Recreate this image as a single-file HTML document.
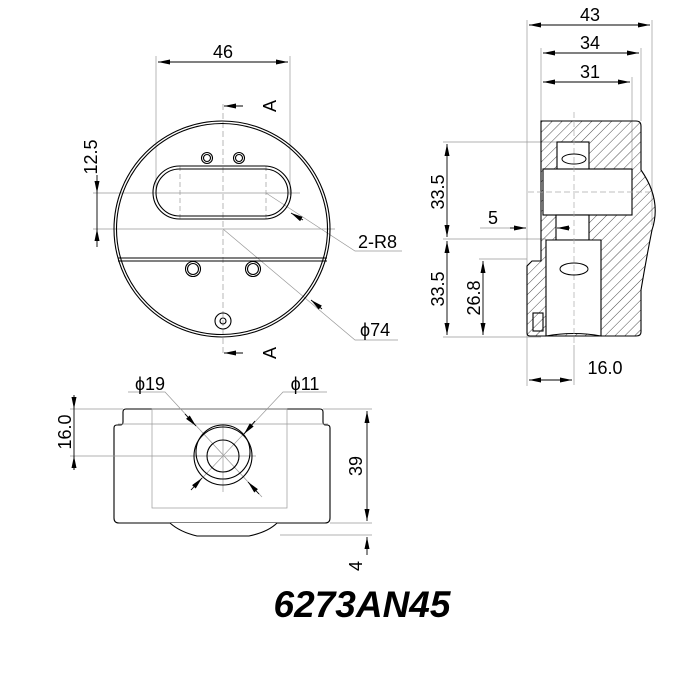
<!DOCTYPE html>
<html><head><meta charset="utf-8"><style>
html,body{margin:0;padding:0;background:#fff;}
svg{display:block;font-family:"Liberation Sans",sans-serif;}
</style></head><body>
<svg width="700" height="700" viewBox="0 0 700 700" xmlns="http://www.w3.org/2000/svg">
<defs>
<pattern id="h" width="7" height="7" patternUnits="userSpaceOnUse" patternTransform="rotate(45)">
<line x1="0" y1="0" x2="0" y2="7" stroke="#222" stroke-width="0.8"/>
</pattern>
<marker id="a" viewBox="0 0 12 5" refX="12" refY="2.5" markerWidth="13" markerHeight="5" orient="auto-start-reverse" markerUnits="userSpaceOnUse"><path d="M0,0 L12,2.5 L0,5 z" fill="#000"/></marker>
</defs>
<rect width="700" height="700" fill="#fff"/>

<!-- ===== TOP VIEW ===== -->
<g fill="none" stroke="#999" stroke-width="0.7">
<line x1="156" y1="56" x2="156" y2="195"/>
<line x1="290" y1="56" x2="290" y2="195"/>
<line x1="93" y1="193" x2="300" y2="193"/>
<line x1="93" y1="229" x2="335" y2="229"/>
<line x1="223" y1="104" x2="223" y2="356" stroke-dasharray="6,3"/>
<line x1="180" y1="166" x2="180" y2="219" stroke-dasharray="5,3"/>
<line x1="266" y1="166" x2="266" y2="219" stroke-dasharray="5,3"/>
<polyline points="266,193 355,251 402,251"/>
<polyline points="223,229 355,340 398,340"/>
</g>
<g stroke="#000" stroke-width="0.9" fill="none">
<line x1="158" y1="62" x2="288" y2="62" marker-start="url(#a)" marker-end="url(#a)"/>
<line x1="97" y1="175" x2="97" y2="193" marker-end="url(#a)"/>
<line x1="97" y1="247" x2="97" y2="229" marker-end="url(#a)"/>
<line x1="97" y1="193" x2="97" y2="229"/>
<line x1="243" y1="106" x2="224" y2="106" marker-end="url(#a)"/>
<line x1="243" y1="353" x2="224" y2="353" marker-end="url(#a)"/>
<line x1="303" y1="220" x2="291" y2="213" marker-end="url(#a)"/>
<line x1="322" y1="309" x2="311" y2="300" marker-end="url(#a)"/>
</g>
<g stroke="#000" fill="none" stroke-width="1.1">
<circle cx="222" cy="229" r="108"/>
<circle cx="222" cy="229" r="105.5"/>
<line x1="118" y1="258" x2="327" y2="258"/>
<line x1="118" y1="261" x2="327" y2="261"/>
<rect x="153" y="166" width="138" height="53" rx="26.5"/>
<rect x="156" y="169" width="132" height="47" rx="23.5"/>
<circle cx="207" cy="158" r="5.5"/><circle cx="207" cy="158" r="3.5"/>
<circle cx="239" cy="158" r="5.5"/><circle cx="239" cy="158" r="3.5"/>
<circle cx="193" cy="269" r="7.5"/><circle cx="193" cy="269" r="5.5"/>
<circle cx="253" cy="269" r="7.5"/><circle cx="253" cy="269" r="5.5"/>
<circle cx="223" cy="321" r="8"/><circle cx="223" cy="321" r="3"/>
</g>
<g font-size="18" fill="#000">
<text x="223" y="58" text-anchor="middle">46</text>
<text x="358" y="248">2-R8</text>
<text x="360" y="336">ϕ74</text>
<text transform="translate(97,157) rotate(-90)" text-anchor="middle">12.5</text>
<text transform="translate(276,106) rotate(-90)" text-anchor="middle">A</text>
<text transform="translate(276,353) rotate(-90)" text-anchor="middle">A</text>
</g>

<!-- ===== SECTION VIEW ===== -->
<g fill="none" stroke="#999" stroke-width="0.7">
<line x1="527" y1="20" x2="527" y2="386"/>
<line x1="652" y1="20" x2="652" y2="225"/>
<line x1="541" y1="48" x2="541" y2="121"/>
<line x1="641" y1="48" x2="641" y2="121"/>
<line x1="632" y1="77" x2="632" y2="170"/>
<line x1="443" y1="142" x2="557" y2="142"/>
<line x1="443" y1="239" x2="546" y2="239"/>
<line x1="443" y1="337" x2="541" y2="337"/>
<line x1="479" y1="259" x2="527" y2="259"/>
<line x1="480" y1="228" x2="524" y2="228"/>
<line x1="574" y1="345" x2="574" y2="385"/>
</g>
<path d="M545,121 L636,121 Q641,121 641,126 L641,170 Q662,200 652,230 Q646,260 641,290 L641,332 Q641,336 636,336 L530,336 Q527,336 527,333 L527,266 L532,261 L541,261 L541,240 L541,121 Z" fill="url(#h)" stroke="#000" stroke-width="1.1"/>
<g fill="#fff" stroke="#000" stroke-width="1.1">
<rect x="557" y="142" width="32" height="28"/>
<rect x="543" y="169" width="89" height="46"/>
<rect x="556" y="215" width="33" height="25"/>
<path d="M546,240 L601,240 L601,336 Q574,331 546,336 Z"/>
<rect x="533" y="313" width="10" height="18" fill="none"/>
</g>
<g fill="none" stroke="#aaa" stroke-width="0.7">
<line x1="574" y1="112" x2="574" y2="345" stroke-dasharray="6,3"/>
<line x1="528" y1="192" x2="650" y2="192" stroke-dasharray="6,3"/>
</g>
<g fill="none" stroke="#000" stroke-width="1">
<ellipse cx="574" cy="159" rx="12" ry="5"/>
<ellipse cx="574" cy="269" rx="14" ry="6"/>
</g>
<g stroke="#000" stroke-width="0.9" fill="none">
<line x1="529" y1="25" x2="650" y2="25" marker-start="url(#a)" marker-end="url(#a)"/>
<line x1="543" y1="53" x2="639" y2="53" marker-start="url(#a)" marker-end="url(#a)"/>
<line x1="543" y1="82" x2="630" y2="82" marker-start="url(#a)" marker-end="url(#a)"/>
<line x1="447" y1="144" x2="447" y2="237" marker-start="url(#a)" marker-end="url(#a)"/>
<line x1="447" y1="241" x2="447" y2="335" marker-start="url(#a)" marker-end="url(#a)"/>
<line x1="483" y1="261" x2="483" y2="335" marker-start="url(#a)" marker-end="url(#a)"/>
<line x1="510" y1="228" x2="526" y2="228" marker-end="url(#a)"/>
<line x1="570" y1="228" x2="557" y2="228" marker-end="url(#a)"/>
<line x1="529" y1="380" x2="572" y2="380" marker-start="url(#a)" marker-end="url(#a)"/>
</g>
<g font-size="18" fill="#000">
<text x="590" y="21" text-anchor="middle">43</text>
<text x="590" y="49" text-anchor="middle">34</text>
<text x="590" y="78" text-anchor="middle">31</text>
<text x="488" y="224">5</text>
<text x="605" y="374" text-anchor="middle">16.0</text>
<text transform="translate(444,192) rotate(-90)" text-anchor="middle">33.5</text>
<text transform="translate(444,289) rotate(-90)" text-anchor="middle">33.5</text>
<text transform="translate(480,298) rotate(-90)" text-anchor="middle">26.8</text>
</g>

<!-- ===== FRONT VIEW ===== -->
<g fill="#fff" stroke="#000" stroke-width="1.1">
<path d="M126,409 L320,409 Q323,409 323,412 L323,422 Q323,425 326,425 L327,425 Q330,425 330,428 L330,518 Q330,523 325,523 L119,523 Q114,523 114,518 L114,428 Q114,425 117,425 L120,425 Q123,425 123,422 L123,412 Q123,409 126,409 Z"/>
<path d="M170,523 Q180,532 197,536 L249,536 Q268,532 277,523"/>
</g>
<g fill="none" stroke="#999" stroke-width="0.7">
<line x1="70" y1="409" x2="123" y2="409"/>
<line x1="70" y1="456" x2="222" y2="456"/>
<line x1="323" y1="409" x2="372" y2="409"/>
<line x1="330" y1="523" x2="372" y2="523"/>
<line x1="280" y1="535" x2="372" y2="535"/>
<rect x="152" y="409" width="135" height="99"/>
<line x1="118" y1="424" x2="328" y2="424"/>
<polyline points="128,392 165,392 262,497"/>
<polyline points="327,392 283,392 191,490"/>
<line x1="190" y1="456" x2="256" y2="456"/>
<line x1="223" y1="424" x2="223" y2="492"/>
</g>
<g fill="none" stroke="#000" stroke-width="1.1">
<circle cx="223" cy="456" r="29"/>
<circle cx="223" cy="452" r="27"/>
<circle cx="223" cy="456" r="16"/>
</g>
<g stroke="#000" stroke-width="0.9" fill="none">
<line x1="185" y1="414" x2="196" y2="426" marker-end="url(#a)"/>
<line x1="259" y1="494" x2="248" y2="482" marker-end="url(#a)"/>
<line x1="255" y1="421" x2="244" y2="434" marker-end="url(#a)"/>
<line x1="191" y1="490" x2="202" y2="478" marker-end="url(#a)"/>
<line x1="74" y1="395" x2="74" y2="409" marker-end="url(#a)"/>
<line x1="74" y1="470" x2="74" y2="456" marker-end="url(#a)"/>
<line x1="74" y1="409" x2="74" y2="470"/>
<line x1="367" y1="411" x2="367" y2="521" marker-start="url(#a)" marker-end="url(#a)"/>
<line x1="367" y1="555" x2="367" y2="537" marker-end="url(#a)"/>
</g>
<g font-size="18" fill="#000">
<text x="150" y="390" text-anchor="middle">ϕ19</text>
<text x="305" y="390" text-anchor="middle">ϕ11</text>
<text transform="translate(71,432) rotate(-90)" text-anchor="middle">16.0</text>
<text transform="translate(362,466) rotate(-90)" text-anchor="middle">39</text>
<text transform="translate(362,566) rotate(-90)" text-anchor="middle">4</text>
</g>

<text x="362" y="617" font-size="37" font-weight="bold" font-style="italic" text-anchor="middle" fill="#000">6273AN45</text>
</svg>
</body></html>
